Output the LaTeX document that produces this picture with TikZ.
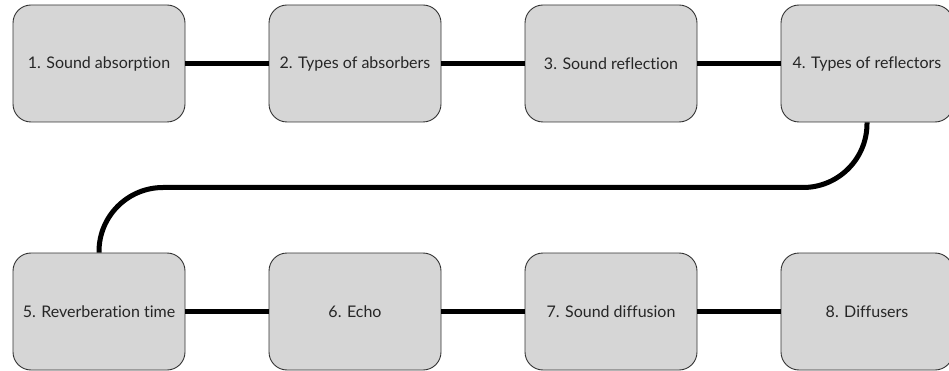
\documentclass[tikz,border=0pt]{standalone}
\usepackage{fontspec}
\setmainfont{Lato}[RawFeature=-liga]
\usetikzlibrary{calc}
\definecolor{boxfill}{HTML}{D6D6D6}
\definecolor{boxline}{HTML}{333333}
\begin{document}
\begin{tikzpicture}[x=1pt,y=-1pt,
  stepbox/.style={draw=boxline,fill=boxfill,line width=0.9pt,rounded corners=18pt,
    minimum width=172pt,minimum height=117pt,inner sep=2pt,font=\fontsize{16}{19}\selectfont,text=black!85},
  conn/.style={line width=5pt,black}]
\useasboundingbox (0,0) rectangle (949,371);
\node[stepbox] (b1) at (99,63.5) {1. Sound absorption};
\node[stepbox] (b2) at (355,63.5) {2. Types of absorbers};
\node[stepbox] (b3) at (611,63.5) {3. Sound reflection};
\node[stepbox] (b4) at (867,63.5) {4. Types of reflectors};
\node[stepbox] (b5) at (99,311.5) {5. Reverberation time};
\node[stepbox] (b6) at (355,311.5) {6. Echo};
\node[stepbox] (b7) at (611,311.5) {7. Sound diffusion};
\node[stepbox] (b8) at (867,311.5) {8. Diffusers};
\draw[conn] (b1.east) -- (b2.west);
\draw[conn] (b2.east) -- (b3.west);
\draw[conn] (b3.east) -- (b4.west);
\coordinate (turn) at ($(b4.south)!0.5!(b4.south|-b5.north)$);
\draw[conn,rounded corners=64pt] (b4.south) -- (turn) -| (b5.north);
\draw[conn] (b5.east) -- (b6.west);
\draw[conn] (b6.east) -- (b7.west);
\draw[conn] (b7.east) -- (b8.west);
\end{tikzpicture}
\end{document}
